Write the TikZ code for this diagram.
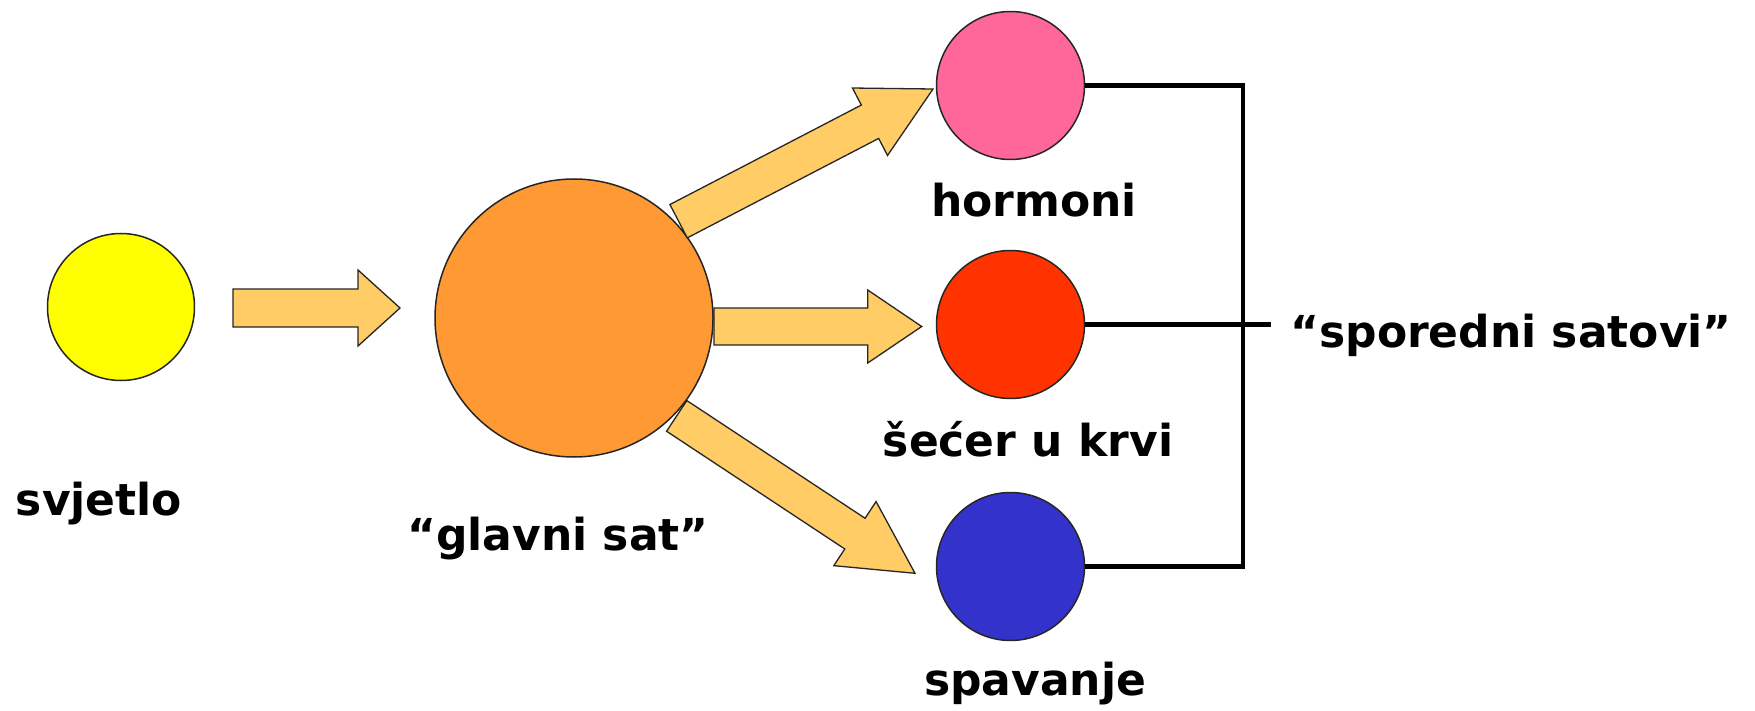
\documentclass[tikz,border=0pt]{standalone}
\usepackage{fontspec}
\setmainfont{DejaVu Sans}
\usetikzlibrary{calc}
\definecolor{yellowc}{HTML}{FFFF00}
\definecolor{orangec}{HTML}{FF9933}
\definecolor{pinkc}{HTML}{FF6699}
\definecolor{redc}{HTML}{FF3300}
\definecolor{bluec}{HTML}{3333CC}
\definecolor{arrowc}{HTML}{FFCC66}
\tikzset{
  ball/.style={circle, draw=black!85, line width=0.75pt, minimum size=74pt, inner sep=0pt},
  lbl/.style={font=\fontsize{22pt}{26pt}\selectfont\bfseries, inner sep=0pt, anchor=base},
  barrow/.style={fill=arrowc, draw=black!85, line width=0.65pt, line join=miter},
  bracket/.style={line width=2.25pt, line join=miter}
}
% block arrow: #1 start, #2 tip, #3 half shaft width, #4 half head width, #5 head length
\newcommand\blockarr[5]{%
  \coordinate (hb) at ($(#2)!#5!(#1)$);
  \draw[barrow] ($(#1)!#3!90:(#2)$) -- ($(hb)!#3!90:(#2)$) -- ($(hb)!#4!90:(#2)$) -- (#2)
    -- ($(hb)!#4!-90:(#2)$) -- ($(hb)!#3!-90:(#2)$) -- ($(#1)!#3!-90:(#2)$) -- cycle;
}
\begin{document}
\begin{tikzpicture}[x=0.5pt,y=-0.5pt]
\useasboundingbox (0,0) rectangle (1755,711);
% circles
\node[ball, fill=yellowc, minimum size=73.5pt] (svj) at (121,307) {};
\node[ball, fill=orangec, minimum size=139pt] (glav) at (574,318) {};
\node[ball, fill=pinkc] (horm) at (1010.5,85.5) {};
\node[ball, fill=redc] (sec) at (1010.5,324.5) {};
\node[ball, fill=bluec] (spav) at (1010.5,566.5) {};
% labels
\node[lbl] (svjl) at (99,515) {svjetlo};
\node[lbl] (glavl) at (558,550) {“glavni sat”};
\node[lbl] (horml) at (1034,216.7) {hormoni};
\node[lbl] (secl) at (1028,456.7) {šećer u krvi};
\node[lbl] (spavl) at (1035,695) {spavanje};
\node[lbl, anchor=base west, inner xsep=9.5pt] (spor) at (1271,347.3) {“sporedni satovi”};
% block arrows
\coordinate (a1s) at (233,308);
\coordinate (a1t) at (400,308);
\coordinate (a2s) at (678.6,221.2);
\coordinate (a2t) at (933,89);
\coordinate (a3s) at (714,326.5);
\coordinate (a3t) at (921.7,326.5);
\coordinate (a4s) at (676.7,415.9);
\coordinate (a4t) at (915,573.3);
\blockarr{a1s}{a1t}{9.5pt}{19pt}{21pt}
\blockarr{a2s}{a2t}{9.4pt}{19pt}{35.5pt}
\blockarr{a3s}{a3t}{9.25pt}{18.25pt}{27pt}
\blockarr{a4s}{a4t}{9.2pt}{19.2pt}{36pt}
% bracket
\coordinate (bt) at (1243,85.5);
\coordinate (bb) at (1243,566.5);
\draw[bracket] (horm.east) -- (bt) -- (bb) -- (spav.east);
\draw[bracket] (sec.east) -- (sec.east -| spor.west);
\end{tikzpicture}
\end{document}
